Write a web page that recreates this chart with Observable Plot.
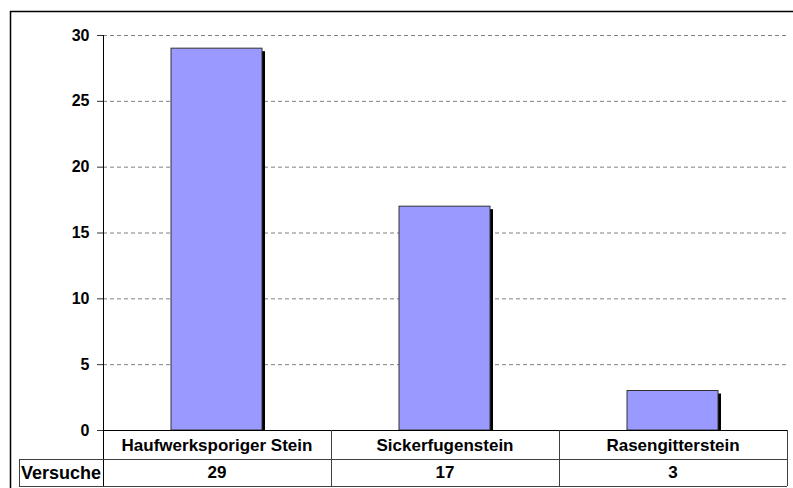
<!DOCTYPE html>
<html>
<head>
<meta charset="utf-8">
<script src="https://cdn.jsdelivr.net/npm/d3@7"></script>
<script src="https://cdn.jsdelivr.net/npm/@observablehq/plot@0.6"></script>
<style>
  html, body { margin: 0; padding: 0; background: #fff; }
  #chart { position: relative; width: 793px; height: 488px; overflow: hidden; }
  svg { font-family: "Liberation Sans", Arial, sans-serif; }
</style>
</head>
<body>
<div id="chart"></div>
<script>
const categories = ["Haufwerksporiger Stein", "Sickerfugenstein", "Rasengitterstein"];
const versuche = [29, 17, 3];
const seriesName = "Versuche";
const yTicks = [0, 5, 10, 15, 20, 25, 30];

const data = categories.map((c, i) => ({ cat: c, value: versuche[i] }));

const W = 793, H = 488;
const mTop = 35, mBottom = 58, mLeft = 103, mRight = 6;
const FS = 16, TFS = 17;

const plot = Plot.plot({
  width: W,
  height: H,
  marginTop: mTop,
  marginBottom: mBottom,
  marginLeft: mLeft,
  marginRight: mRight,
  style: { fontFamily: "Liberation Sans, Arial, sans-serif", fontSize: FS + "px", background: "transparent" },
  x: { domain: categories, paddingInner: 0.6, paddingOuter: 0.3, align: 0.5, axis: null },
  y: { domain: [0, 30], axis: null },
  marks: [
    Plot.gridY(yTicks.filter(d => d > 0), { stroke: "#808080", strokeOpacity: 1, strokeDasharray: "4,3", strokeWidth: 1 }),
    // shadow
    Plot.barY(data, { x: "cat", y: "value", fill: "#000", dx: 3, dy: 3, insetBottom: 3 }),
    Plot.barY(data, { x: "cat", y: "value", fill: "#9999FF", stroke: "#333", strokeWidth: 1 }),
    Plot.axisY({ ticks: yTicks, tickSize: 6, tickPadding: 8, stroke: "#333", fontSize: FS, fontWeight: "bold", fill: "#000", label: null }),
    // category labels (first table row)
    Plot.axisX({ tickSize: 0, tickPadding: 0, dy: 8, fontSize: TFS, fontWeight: "bold", fill: "#000", label: null }),
    // values (second table row)
    Plot.text(data, { x: "cat", text: d => String(d.value), frameAnchor: "bottom", dy: 47, fontSize: TFS, fontWeight: "bold", fill: "#000" })
  ]
});

document.getElementById("chart").appendChild(plot);

// Table grid lines using the x band scale
const xs = plot.scale("x");
const svg = d3.select(plot);
const step = xs.step;
const x0 = mLeft;
const xEnd = W - mRight;
const yAxis = H - mBottom;   // 430
const yRow = yAxis + 29;     // 459
const yBot = yAxis + 56;     // 486
const g = svg.append("g").attr("fill", "none").attr("stroke-width", 1).attr("shape-rendering", "crispEdges");
// y axis line
g.append("line").attr("x1", x0 + 0.5).attr("x2", x0 + 0.5).attr("y1", mTop).attr("y2", yBot).attr("stroke", "#000");
// x axis / table top
g.append("line").attr("x1", x0).attr("x2", xEnd).attr("y1", yAxis + 0.5).attr("y2", yAxis + 0.5).attr("stroke", "#000");
// row separator and bottom
g.append("line").attr("x1", 19).attr("x2", xEnd).attr("y1", yRow + 0.5).attr("y2", yRow + 0.5).attr("stroke", "#404040");
g.append("line").attr("x1", 19).attr("x2", xEnd).attr("y1", yBot + 0.5).attr("y2", yBot + 0.5).attr("stroke", "#404040");
// left border of series name cell
g.append("line").attr("x1", 19.5).attr("x2", 19.5).attr("y1", yRow).attr("y2", yBot).attr("stroke", "#404040");
// category separators
categories.forEach(c => {
  const xr = xs.apply(c) - step * 0.3 + step; // right edge of band
  g.append("line").attr("x1", Math.round(xr) + 0.5).attr("x2", Math.round(xr) + 0.5).attr("y1", yAxis).attr("y2", yBot).attr("stroke", "#404040");
});
// series name
svg.append("text").attr("x", 21).attr("y", yRow + 20).attr("text-anchor", "start")
  .attr("font-size", 18).attr("font-weight", "bold").attr("fill", "#000").text(seriesName);
// outer chart frame
svg.append("rect").attr("x", 10.5).attr("y", 11.5).attr("width", W).attr("height", H).attr("fill", "none").attr("stroke", "#000").attr("stroke-width", 1.5);
</script>
</body>
</html>
